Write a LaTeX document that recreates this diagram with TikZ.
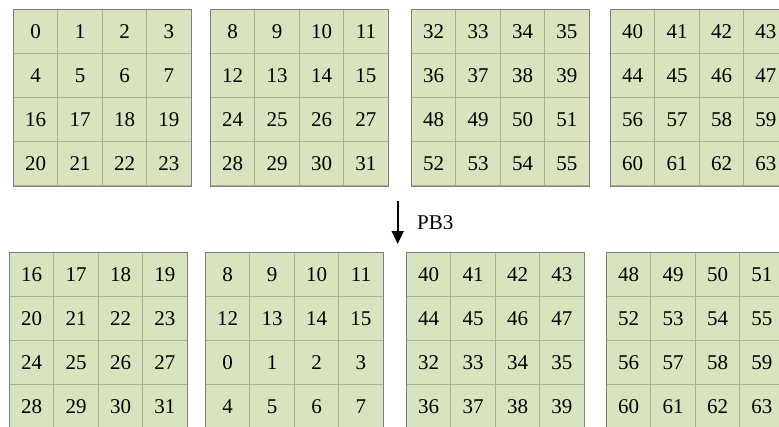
\documentclass[tikz,border=0pt]{standalone}
\usepackage{fontspec}
\setmainfont{Liberation Serif}
\usetikzlibrary{arrows.meta}
\definecolor{cellfill}{HTML}{D7E4BD}
\definecolor{cellline}{HTML}{A8B294}
\definecolor{gridline}{HTML}{7F7F7F}
\newcommand\numgrid[4]{%
  \foreach \n [count=\k from 0] in {#4}{%
    \pgfmathtruncatemacro\col{mod(\k,4)}%
    \pgfmathtruncatemacro\row{floor(\k/4)}%
    \node[cell] (#1-\k) at ({#2+\col*44.4},{#3+\row*44}) {\raisebox{-2pt}{\n}};
  }
  \draw[gridline, line width=1pt] (#1-0.north west) rectangle (#1-15.south east);
}
\begin{document}
\begin{tikzpicture}[x=1pt,y=-1pt,
  cell/.style={draw=cellline, fill=cellfill, line width=1pt,
    minimum width=44.4pt, minimum height=44pt, inner sep=0pt,
    font=\fontsize{21}{21}\selectfont, anchor=north west},
  lbl/.style={font=\fontsize{21}{21}\selectfont, anchor=west, inner sep=0pt}]
\useasboundingbox (0,0) rectangle (779,426);
\clip (0,0) rectangle (779,426);
\fill[white] (0,0) rectangle (779,426);
% top row
\numgrid{ta}{13}{9}{0,1,2,3,4,5,6,7,16,17,18,19,20,21,22,23}
\numgrid{tb}{210}{9}{8,9,10,11,12,13,14,15,24,25,26,27,28,29,30,31}
\numgrid{tc}{411}{9}{32,33,34,35,36,37,38,39,48,49,50,51,52,53,54,55}
\numgrid{td}{610}{9}{40,41,42,43,44,45,46,47,56,57,58,59,60,61,62,63}
% bottom row
\numgrid{ba}{9}{252}{16,17,18,19,20,21,22,23,24,25,26,27,28,29,30,31}
\numgrid{bb}{205}{252}{8,9,10,11,12,13,14,15,0,1,2,3,4,5,6,7}
\numgrid{bc}{406}{252}{40,41,42,43,44,45,46,47,32,33,34,35,36,37,38,39}
\numgrid{bd}{606}{252}{48,49,50,51,52,53,54,55,56,57,58,59,60,61,62,63}
% arrow
\coordinate (arrS) at (397.7,201);
\coordinate (arrE) at (397.7,244);
\draw[line width=1.7pt, -{Triangle[length=13pt,width=12pt]}] (arrS) -- (arrE);
\node[lbl] (pb) at (417,223) {PB3};
\end{tikzpicture}
\end{document}
